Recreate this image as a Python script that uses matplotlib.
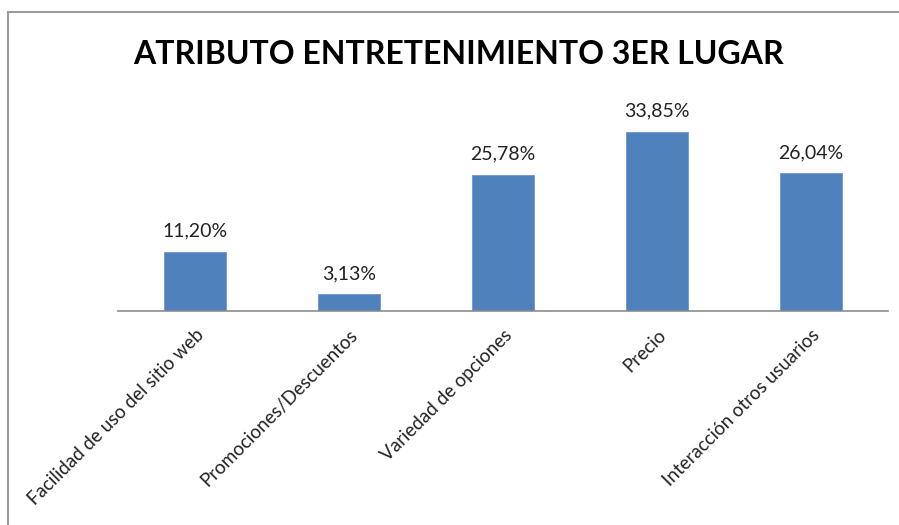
import matplotlib
matplotlib.use("Agg")
import matplotlib.pyplot as plt
from matplotlib.patches import Rectangle

# data
categorias = ["Facilidad de uso del sitio web", "Promociones/Descuentos",
              "Variedad de opciones", "Precio", "Interacción otros usuarios"]
valores = [11.20, 3.13, 25.78, 33.85, 26.04]
titulo = "ATRIBUTO ENTRETENIMIENTO 3ER LUGAR"

W, H = 899, 525
fig = plt.figure(figsize=(W / 100, H / 100), dpi=100)
fig.patch.set_facecolor("white")

# chart-area border (only top and left fall inside the image)
fig.patches.append(Rectangle((8 / W, 0 - 0.05), 1.1, 1 - 12 / H + 0.05,
                             transform=fig.transFigure, fill=False,
                             edgecolor="#9a9a9a", linewidth=1.5))

ymax = 40
base_y, top_y = 311, 311 - ymax * 5.29
ax = fig.add_axes([118 / W, 1 - base_y / H, (888 - 118) / W, (base_y - top_y) / H])

x = range(len(categorias))
ax.bar(x, valores, width=0.4, color="#4F81BD", edgecolor="#6f97cc", linewidth=0.6)
for xi, v in zip(x, valores):
    ax.text(xi, v + 2.3, f"{v:.2f}%".replace(".", ","), ha="center", va="bottom",
            fontsize=14, family="Lato", color="#222222")

ax.set_xlim(-0.5, len(categorias) - 0.5)
ax.set_ylim(0, ymax)
ax.set_yticks([])
for s in ["top", "right", "left"]:
    ax.spines[s].set_visible(False)
ax.spines["bottom"].set_color("#8c8c8c")
ax.spines["bottom"].set_linewidth(1.2)
ax.set_xticks(list(x))
ax.set_xticklabels(categorias, rotation=45, ha="right", rotation_mode="anchor",
                   fontsize=13.5, family="Lato", color="#222222")
ax.tick_params(axis="x", length=0, pad=11)

fig.text(458 / W, 1 - 55 / H, titulo, ha="center", va="center",
         fontsize=23, fontweight="bold", family="Lato", color="black")

fig.savefig("out.png", dpi=100)
